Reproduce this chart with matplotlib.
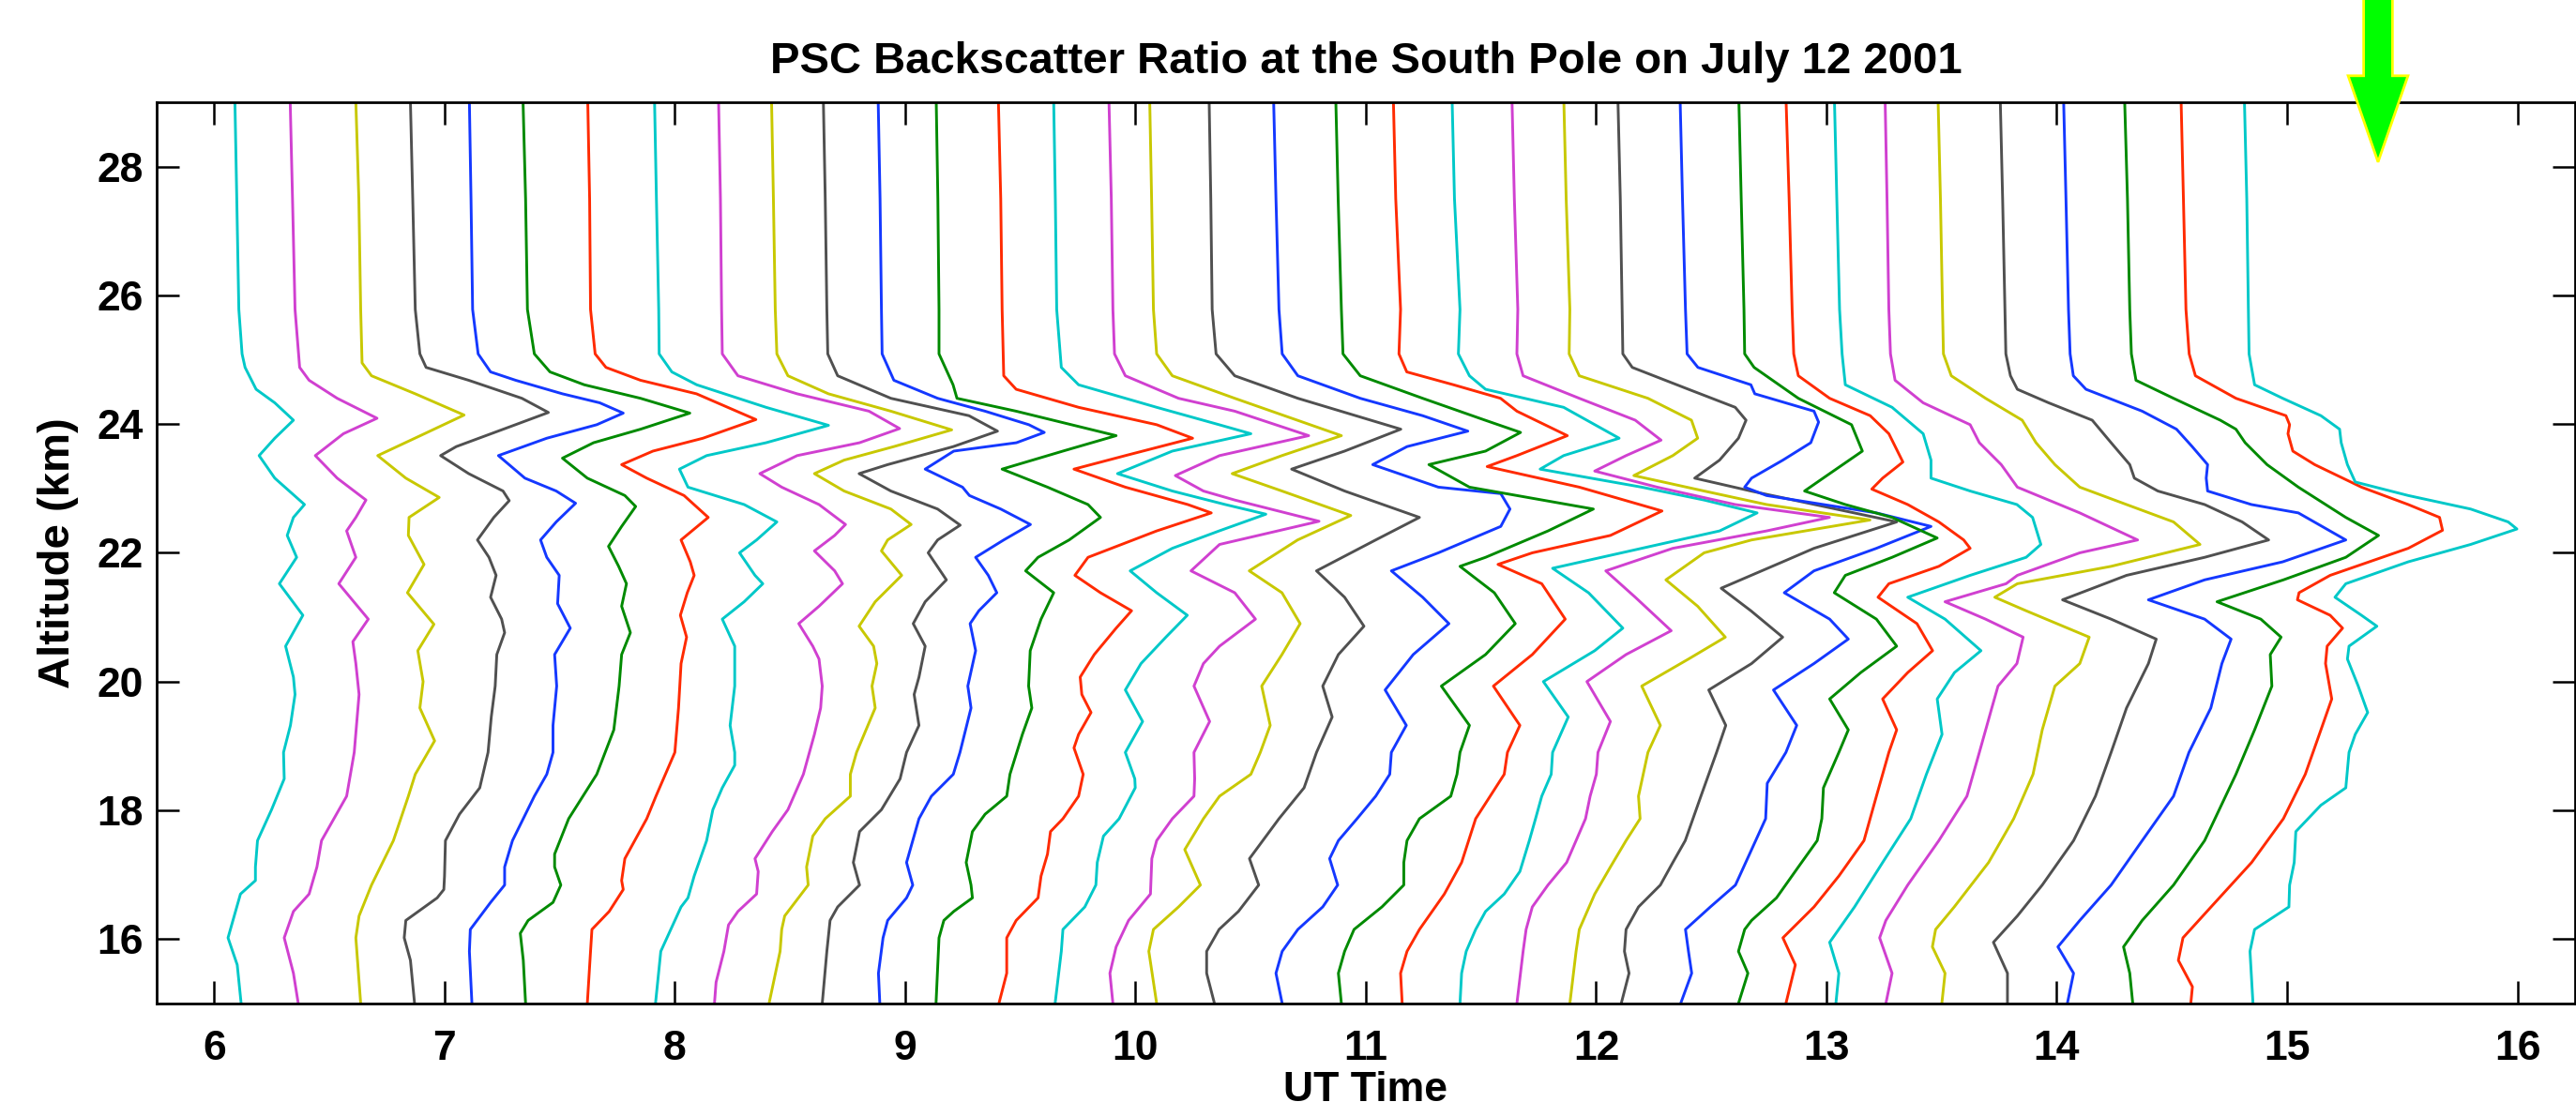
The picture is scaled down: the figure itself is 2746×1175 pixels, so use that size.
import matplotlib
matplotlib.use("Agg")
import matplotlib.pyplot as plt
from matplotlib.patches import FancyArrow

plt.rcParams['font.family'] = ['Liberation Sans', 'DejaVu Sans']
plt.rcParams['font.weight'] = 'bold'

# colour cycle of the profiles (cyan, magenta, yellow, black, blue, green, red)
trace_colors = ['#00c8c8', '#d040d0', '#c8c800', '#505050', '#1438ff', '#008a00', '#ff2a00']

# profiles: (altitude km, plotted UT position in hours)
p01 = [(29, 6.090), (27.5, 6.098), (25.78, 6.107), (25.09, 6.121), (24.88, 6.134), (24.54, 6.182), (24.33, 6.263),
       (24.06, 6.344), (23.78, 6.263), (23.51, 6.195), (23.16, 6.263), (22.75, 6.392), (22.55, 6.344), (22.27, 6.317),
       (21.93, 6.358), (21.52, 6.283), (21.03, 6.385), (20.55, 6.310), (20.07, 6.344), (19.80, 6.351), (19.32, 6.331),
       (18.90, 6.301), (18.49, 6.304), (18.01, 6.249), (17.53, 6.188), (17.12, 6.179), (16.91, 6.179), (16.70, 6.114),
       (16.02, 6.060), (15.60, 6.100), (15.00, 6.117)]
p02 = [(29, 6.330), (27.5, 6.340), (25.78, 6.351), (24.88, 6.371), (24.68, 6.412), (24.40, 6.534), (24.09, 6.707),
       (23.85, 6.561), (23.51, 6.439), (23.16, 6.534), (22.82, 6.659), (22.55, 6.615), (22.34, 6.575), (21.93, 6.615),
       (21.52, 6.541), (20.97, 6.669), (20.62, 6.602), (20.28, 6.615), (19.80, 6.629), (18.90, 6.608), (18.22, 6.575),
       (17.53, 6.466), (17.12, 6.446), (16.70, 6.412), (16.43, 6.344), (16.02, 6.304), (15.47, 6.344), (15.00, 6.365)]
p03 = [(29, 6.615), (27.5, 6.628), (25.78, 6.636), (24.95, 6.642), (24.75, 6.683), (24.47, 6.873), (24.14, 7.085),
       (23.85, 6.913), (23.51, 6.710), (23.16, 6.832), (22.86, 6.977), (22.55, 6.846), (22.27, 6.843), (21.82, 6.911),
       (21.38, 6.839), (20.89, 6.954), (20.48, 6.884), (20.00, 6.907), (19.59, 6.893), (19.08, 6.957), (18.56, 6.873),
       (18.22, 6.843), (17.53, 6.778), (16.84, 6.683), (16.36, 6.629), (16.02, 6.615), (15.00, 6.636)]
p04 = [(29, 6.852), (27.5, 6.862), (25.78, 6.873), (25.09, 6.893), (24.88, 6.920), (24.68, 7.105), (24.40, 7.336),
       (24.18, 7.451), (23.99, 7.308), (23.65, 7.051), (23.51, 6.983), (23.23, 7.105), (22.96, 7.254), (22.81, 7.281),
       (22.55, 7.214), (22.20, 7.143), (21.93, 7.193), (21.65, 7.224), (21.31, 7.200), (20.97, 7.248), (20.76, 7.261),
       (20.42, 7.227), (19.93, 7.220), (19.45, 7.203), (18.90, 7.189), (18.35, 7.153), (17.94, 7.065), (17.53, 7.004),
       (16.98, 7.000), (16.77, 6.997), (16.64, 6.968), (16.29, 6.832), (16.02, 6.825), (15.67, 6.852), (15.00, 6.870)]
p05 = [(29, 7.108), (27.5, 7.115), (25.78, 7.122), (25.09, 7.146), (24.81, 7.200), (24.68, 7.309), (24.47, 7.512),
       (24.33, 7.674), (24.17, 7.776), (23.99, 7.661), (23.78, 7.444), (23.51, 7.234), (23.16, 7.349), (22.96, 7.485),
       (22.77, 7.569), (22.48, 7.485), (22.20, 7.417), (21.93, 7.444), (21.65, 7.498), (21.21, 7.491), (20.83, 7.546),
       (20.42, 7.478), (19.93, 7.487), (19.32, 7.471), (18.90, 7.471), (18.56, 7.444), (18.22, 7.390), (17.53, 7.295),
       (17.12, 7.261), (16.84, 7.261), (16.57, 7.200), (16.15, 7.112), (15.81, 7.108), (15.00, 7.119)]
p06 = [(29, 7.341), (27.5, 7.352), (25.78, 7.360), (25.09, 7.390), (24.81, 7.458), (24.61, 7.607), (24.40, 7.851),
       (24.17, 8.065), (23.92, 7.851), (23.71, 7.647), (23.47, 7.512), (23.16, 7.620), (22.89, 7.783), (22.72, 7.830),
       (22.41, 7.769), (22.10, 7.712), (21.79, 7.756), (21.52, 7.790), (21.17, 7.769), (20.76, 7.807), (20.42, 7.769),
       (19.93, 7.758), (19.25, 7.735), (18.56, 7.661), (17.87, 7.539), (17.32, 7.478), (17.12, 7.478), (16.84, 7.505),
       (16.57, 7.471), (16.29, 7.363), (16.09, 7.329), (15.67, 7.342), (15.00, 7.352)]
p07 = [(29, 7.622), (27.5, 7.630), (25.78, 7.634), (25.09, 7.654), (24.88, 7.701), (24.68, 7.851), (24.47, 8.094),
       (24.07, 8.352), (23.78, 8.122), (23.58, 7.905), (23.37, 7.769), (23.16, 7.878), (22.89, 8.040), (22.55, 8.145),
       (22.20, 8.027), (21.86, 8.067), (21.65, 8.084), (21.38, 8.054), (21.03, 8.024), (20.69, 8.051), (20.28, 8.027),
       (19.59, 8.016), (18.90, 8.000), (18.22, 7.918), (17.87, 7.878), (17.25, 7.783), (16.91, 7.769), (16.77, 7.776),
       (16.43, 7.715), (16.15, 7.640), (15.81, 7.634), (15.00, 7.620)]
p08 = [(29, 7.912), (27.5, 7.920), (25.78, 7.930), (25.09, 7.932), (24.81, 7.987), (24.61, 8.095), (24.26, 8.396),
       (23.98, 8.667), (23.71, 8.396), (23.51, 8.138), (23.30, 8.020), (23.02, 8.057), (22.75, 8.301), (22.48, 8.443),
       (22.20, 8.355), (22.00, 8.281), (21.65, 8.348), (21.52, 8.382), (21.24, 8.301), (20.97, 8.206), (20.55, 8.260),
       (19.93, 8.260), (19.32, 8.240), (18.90, 8.260), (18.70, 8.260), (18.35, 8.206), (18.01, 8.165), (17.53, 8.138),
       (16.98, 8.084), (16.64, 8.057), (16.50, 8.027), (15.81, 7.939), (15.00, 7.916)]
p09 = [(29, 8.190), (27.5, 8.198), (25.78, 8.203), (25.09, 8.206), (24.75, 8.274), (24.47, 8.531), (24.20, 8.843),
       (23.93, 8.976), (23.71, 8.802), (23.51, 8.531), (23.23, 8.369), (23.02, 8.464), (22.75, 8.626), (22.44, 8.741),
       (22.27, 8.694), (22.03, 8.606), (21.72, 8.694), (21.52, 8.728), (21.17, 8.626), (20.90, 8.538), (20.55, 8.599),
       (20.35, 8.626), (19.93, 8.640), (19.59, 8.633), (19.18, 8.606), (18.56, 8.558), (18.01, 8.491), (17.67, 8.423),
       (17.25, 8.348), (17.05, 8.362), (16.70, 8.355), (16.43, 8.274), (16.22, 8.233), (15.81, 8.213), (15.33, 8.179),
       (15.00, 8.172)]
p10 = [(29, 8.420), (27.5, 8.428), (25.78, 8.436), (25.09, 8.443), (24.75, 8.491), (24.47, 8.667), (24.20, 8.938),
       (23.91, 9.202), (23.65, 8.951), (23.44, 8.735), (23.23, 8.606), (22.96, 8.735), (22.68, 8.938), (22.44, 9.026),
       (22.20, 8.924), (22.03, 8.897), (21.65, 8.985), (21.24, 8.870), (20.86, 8.800), (20.55, 8.863), (20.28, 8.877),
       (19.93, 8.856), (19.59, 8.870), (18.90, 8.789), (18.56, 8.762), (18.22, 8.762), (17.87, 8.653), (17.60, 8.599),
       (17.12, 8.572), (16.84, 8.579), (16.36, 8.477), (16.15, 8.464), (15.81, 8.457), (15.00, 8.409)]
p11 = [(29, 8.645), (27.5, 8.653), (25.78, 8.660), (25.09, 8.664), (24.75, 8.707), (24.40, 8.938), (24.13, 9.277),
       (23.89, 9.401), (23.65, 9.209), (23.37, 8.924), (23.23, 8.800), (22.96, 8.938), (22.68, 9.141), (22.43, 9.239),
       (22.20, 9.141), (22.00, 9.100), (21.58, 9.179), (21.24, 9.087), (20.90, 9.035), (20.55, 9.087), (20.07, 9.060),
       (19.80, 9.039), (19.32, 9.060), (18.90, 9.006), (18.49, 8.978), (18.01, 8.897), (17.67, 8.802), (17.19, 8.775),
       (16.84, 8.802), (16.50, 8.707), (16.29, 8.674), (15.81, 8.660), (15.00, 8.640)]
p12 = [(29, 8.883), (27.5, 8.891), (25.78, 8.897), (25.09, 8.900), (24.68, 8.951), (24.40, 9.141), (24.20, 9.347),
       (23.99, 9.537), (23.87, 9.604), (23.71, 9.483), (23.58, 9.211), (23.30, 9.087), (23.02, 9.249), (22.89, 9.279),
       (22.68, 9.415), (22.44, 9.544), (22.20, 9.428), (21.93, 9.306), (21.65, 9.361), (21.38, 9.398), (21.10, 9.320),
       (20.90, 9.282), (20.48, 9.306), (19.93, 9.272), (19.59, 9.286), (18.90, 9.238), (18.56, 9.209), (18.22, 9.114),
       (17.87, 9.060), (17.53, 9.033), (17.19, 9.006), (16.84, 9.033), (16.64, 9.006), (16.29, 8.924), (16.02, 8.904),
       (15.47, 8.884), (15.00, 8.890)]
p13 = [(29, 9.135), (27.5, 9.142), (25.78, 9.147), (25.09, 9.147), (24.61, 9.208), (24.40, 9.225), (24.20, 9.482),
       (23.82, 9.916), (23.58, 9.685), (23.30, 9.421), (23.02, 9.618), (22.75, 9.794), (22.55, 9.848), (22.20, 9.712),
       (21.93, 9.577), (21.72, 9.523), (21.38, 9.645), (20.97, 9.590), (20.48, 9.543), (19.93, 9.536), (19.59, 9.550),
       (19.18, 9.509), (18.56, 9.455), (18.22, 9.441), (17.94, 9.347), (17.67, 9.292), (17.19, 9.265), (16.84, 9.286),
       (16.64, 9.292), (16.43, 9.211), (16.29, 9.168), (16.02, 9.147), (15.47, 9.140), (15.00, 9.134)]
p14 = [(29, 9.405), (27.5, 9.415), (25.78, 9.421), (24.75, 9.428), (24.54, 9.482), (24.26, 9.753), (23.99, 10.092),
       (23.78, 10.248), (23.51, 9.956), (23.30, 9.733), (23.02, 9.956), (22.75, 10.227), (22.62, 10.329), (22.34, 10.092),
       (21.93, 9.794), (21.65, 9.737), (21.38, 9.848), (21.10, 9.983), (20.83, 9.916), (20.42, 9.821), (20.07, 9.760),
       (19.80, 9.767), (19.52, 9.807), (19.18, 9.753), (18.97, 9.733), (18.56, 9.773), (18.22, 9.753), (17.87, 9.685),
       (17.67, 9.631), (17.32, 9.618), (16.98, 9.590), (16.64, 9.577), (16.29, 9.482), (16.02, 9.441), (15.47, 9.441),
       (15.00, 9.407)]
p15 = [(29, 9.645), (27.5, 9.652), (25.78, 9.658), (24.88, 9.678), (24.61, 9.753), (24.26, 10.092), (23.99, 10.363),
       (23.85, 10.501), (23.58, 10.160), (23.23, 9.922), (22.96, 10.160), (22.75, 10.390), (22.60, 10.566),
       (22.34, 10.363), (22.07, 10.160), (21.72, 9.977), (21.38, 10.092), (21.03, 10.225), (20.69, 10.132),
       (20.28, 10.024), (19.87, 9.956), (19.38, 10.031), (18.90, 9.956), (18.49, 9.997), (18.35, 9.999), (17.87, 9.929),
       (17.60, 9.861), (17.19, 9.834), (16.84, 9.828), (16.50, 9.780), (16.15, 9.685), (15.81, 9.678), (15.00, 9.651)]
p16 = [(29, 9.885), (27.5, 9.895), (25.78, 9.902), (25.09, 9.909), (24.75, 9.956), (24.40, 10.187), (24.20, 10.431),
       (23.82, 10.752), (23.51, 10.365), (23.20, 10.173), (22.96, 10.295), (22.82, 10.431), (22.49, 10.797),
       (22.13, 10.365), (21.72, 10.241), (21.38, 10.431), (20.97, 10.521), (20.55, 10.365), (20.28, 10.295),
       (19.93, 10.254), (19.38, 10.322), (18.90, 10.254), (18.49, 10.257), (18.22, 10.254), (17.87, 10.160),
       (17.53, 10.092), (17.25, 10.071), (16.70, 10.065), (16.29, 9.970), (15.88, 9.916), (15.47, 9.889), (15.00, 9.902)]
p17 = [(29, 10.062), (27.5, 10.070), (25.78, 10.078), (25.09, 10.092), (24.75, 10.160), (24.40, 10.431),
       (23.82, 10.894), (23.51, 10.636), (23.23, 10.420), (22.96, 10.636), (22.58, 10.935), (22.20, 10.704),
       (21.72, 10.494), (21.38, 10.636), (20.90, 10.715), (20.42, 10.636), (19.93, 10.548), (19.32, 10.585),
       (18.90, 10.542), (18.56, 10.501), (18.22, 10.365), (17.87, 10.295), (17.39, 10.214), (16.84, 10.282),
       (16.50, 10.187), (16.15, 10.078), (15.81, 10.058), (15.00, 10.092)]
p18 = [(29, 10.320), (27.5, 10.327), (25.78, 10.333), (25.09, 10.350), (24.75, 10.431), (24.40, 10.705),
       (23.92, 11.152), (23.58, 10.908), (23.30, 10.678), (22.96, 10.908), (22.55, 11.233), (22.20, 11.043),
       (21.72, 10.786), (21.31, 10.908), (20.86, 10.992), (20.42, 10.881), (19.93, 10.813), (19.45, 10.854),
       (18.90, 10.786), (18.35, 10.732), (17.87, 10.623), (17.25, 10.495), (16.84, 10.535), (16.43, 10.447),
       (16.15, 10.363), (15.81, 10.309), (15.47, 10.309), (15.00, 10.343)]
p19 = [(29, 10.600), (27.5, 10.610), (25.78, 10.623), (25.09, 10.637), (24.75, 10.705), (24.40, 10.976),
       (24.13, 11.247), (23.89, 11.443), (23.65, 11.179), (23.37, 11.030), (23.02, 11.315), (22.92, 11.586),
       (22.68, 11.626), (22.41, 11.586), (22.00, 11.315), (21.72, 11.111), (21.31, 11.247), (20.90, 11.361),
       (20.42, 11.206), (19.87, 11.084), (19.32, 11.176), (18.90, 11.111), (18.56, 11.104), (18.22, 11.043),
       (17.87, 10.962), (17.53, 10.881), (17.25, 10.843), (16.84, 10.878), (16.50, 10.813), (16.15, 10.705),
       (15.81, 10.637), (15.47, 10.610), (15.00, 10.637)]
p20 = [(29, 10.870), (27.5, 10.880), (25.78, 10.894), (25.09, 10.901), (24.75, 10.976), (24.40, 11.247),
       (24.06, 11.518), (23.87, 11.672), (23.58, 11.520), (23.37, 11.274), (23.02, 11.450), (22.68, 11.988),
       (22.34, 11.791), (21.93, 11.520), (21.79, 11.409), (21.38, 11.558), (20.90, 11.649), (20.42, 11.520),
       (19.93, 11.328), (19.32, 11.450), (18.90, 11.409), (18.56, 11.396), (18.22, 11.369), (17.87, 11.233),
       (17.53, 11.179), (17.19, 11.165), (16.84, 11.165), (16.50, 11.070), (16.15, 10.949), (15.81, 10.908),
       (15.47, 10.881), (15.00, 10.894)]
p21 = [(29, 11.120), (27.5, 11.130), (25.78, 11.151), (25.09, 11.144), (24.81, 11.178), (24.61, 11.381),
       (24.40, 11.585), (24.20, 11.656), (23.82, 11.875), (23.51, 11.656), (23.34, 11.527), (23.02, 11.927),
       (22.65, 12.286), (22.27, 12.062), (22.00, 11.723), (21.82, 11.574), (21.52, 11.764), (20.97, 11.866),
       (20.42, 11.723), (19.93, 11.554), (19.32, 11.669), (18.90, 11.615), (18.56, 11.601), (18.22, 11.540),
       (17.87, 11.477), (17.19, 11.416), (16.70, 11.341), (16.15, 11.233), (15.81, 11.179), (15.47, 11.151),
       (15.00, 11.158)]
p22 = [(29, 11.375), (27.5, 11.385), (25.78, 11.409), (25.09, 11.402), (24.75, 11.450), (24.54, 11.520),
       (24.26, 11.859), (23.78, 12.100), (23.51, 11.859), (23.30, 11.757), (23.02, 12.198), (22.82, 12.469),
       (22.62, 12.699), (22.34, 12.536), (22.07, 12.198), (21.76, 11.811), (21.38, 11.967), (20.83, 12.116),
       (20.48, 11.994), (20.00, 11.771), (19.45, 11.879), (18.90, 11.811), (18.56, 11.805), (18.22, 11.764),
       (17.87, 11.737), (17.53, 11.710), (17.05, 11.669), (16.70, 11.601), (16.43, 11.520), (16.15, 11.477),
       (15.81, 11.436), (15.47, 11.416), (15.00, 11.409)]
p23 = [(29, 11.635), (27.5, 11.645), (25.78, 11.660), (25.09, 11.656), (24.75, 11.683), (24.40, 11.927),
       (24.06, 12.170), (23.75, 12.282), (23.51, 12.130), (23.27, 11.994), (23.02, 12.265), (22.75, 12.604),
       (22.55, 13.013), (22.34, 12.740), (22.07, 12.333), (21.72, 12.042), (21.31, 12.170), (20.79, 12.326),
       (20.42, 12.130), (20.00, 11.960), (19.38, 12.062), (18.90, 12.008), (18.56, 12.001), (18.22, 11.974),
       (17.87, 11.954), (17.53, 11.913), (17.19, 11.872), (16.84, 11.791), (16.50, 11.723), (16.15, 11.696),
       (15.81, 11.683), (15.00, 11.656)]
p24 = [(29, 11.860), (27.5, 11.870), (25.78, 11.886), (25.09, 11.883), (24.75, 11.927), (24.40, 12.225),
       (24.06, 12.414), (23.78, 12.441), (23.51, 12.333), (23.20, 12.164), (22.96, 12.469), (22.75, 12.740),
       (22.51, 13.189), (22.20, 12.675), (22.00, 12.469), (21.58, 12.303), (21.17, 12.441), (20.69, 12.561),
       (20.35, 12.401), (19.93, 12.198), (19.32, 12.279), (18.90, 12.225), (18.22, 12.184), (17.87, 12.191),
       (17.53, 12.130), (17.12, 12.062), (16.70, 11.994), (16.15, 11.927), (15.81, 11.913), (15.00, 11.886)]
p25 = [(29, 12.095), (27.5, 12.105), (25.78, 12.113), (25.09, 12.116), (24.88, 12.157), (24.54, 12.401),
       (24.26, 12.604), (24.06, 12.651), (23.78, 12.618), (23.44, 12.536), (23.16, 12.428), (22.96, 12.672),
       (22.48, 13.305), (22.07, 12.946), (21.86, 12.810), (21.45, 12.543), (21.10, 12.672), (20.69, 12.810),
       (20.28, 12.675), (19.87, 12.489), (19.32, 12.563), (18.90, 12.523), (18.22, 12.455), (17.53, 12.387),
       (17.19, 12.333), (16.84, 12.279), (16.50, 12.184), (16.15, 12.130), (15.81, 12.123), (15.47, 12.143),
       (15.00, 12.109)]
p26 = [(29, 12.365), (27.5, 12.375), (25.78, 12.388), (25.09, 12.395), (24.88, 12.442), (24.61, 12.672),
       (24.47, 12.689), (24.20, 12.946), (24.03, 12.966), (23.71, 12.932), (23.44, 12.811), (23.16, 12.675),
       (23.02, 12.645), (22.89, 12.740), (22.62, 13.217), (22.41, 13.454), (22.07, 13.217), (21.72, 12.946),
       (21.38, 12.817), (20.97, 13.014), (20.66, 13.095), (20.28, 12.946), (19.87, 12.770), (19.32, 12.871),
       (18.90, 12.824), (18.42, 12.743), (17.87, 12.736), (17.39, 12.675), (16.84, 12.605), (16.50, 12.496),
       (16.15, 12.388), (15.81, 12.401), (15.47, 12.415), (15.00, 12.367)]
p27 = [(29, 12.620), (27.5, 12.630), (25.78, 12.642), (25.09, 12.645), (24.88, 12.686), (24.40, 12.878),
       (23.99, 13.109), (23.58, 13.156), (23.23, 13.014), (22.96, 12.905), (22.75, 13.082), (22.55, 13.285),
       (22.23, 13.481), (21.93, 13.285), (21.65, 13.082), (21.38, 13.034), (20.97, 13.217), (20.55, 13.305),
       (20.14, 13.149), (19.73, 13.014), (19.25, 13.095), (18.90, 13.054), (18.35, 12.987), (17.87, 12.980),
       (17.53, 12.960), (17.12, 12.878), (16.64, 12.783), (16.29, 12.675), (16.15, 12.645), (15.81, 12.618),
       (15.47, 12.659), (15.00, 12.618)]
p28 = [(29, 12.825), (27.5, 12.838), (25.78, 12.851), (25.09, 12.858), (24.75, 12.878), (24.40, 13.014),
       (24.13, 13.190), (23.85, 13.271), (23.41, 13.332), (23.16, 13.244), (22.99, 13.197), (22.75, 13.353),
       (22.48, 13.488), (22.20, 13.596), (22.07, 13.624), (21.79, 13.488), (21.52, 13.271), (21.31, 13.224),
       (20.90, 13.393), (20.48, 13.461), (20.14, 13.353), (19.73, 13.244), (19.25, 13.305), (18.90, 13.271),
       (18.22, 13.217), (17.53, 13.163), (16.98, 13.054), (16.50, 12.946), (16.02, 12.811), (15.60, 12.865),
       (15.00, 12.824)]
p29 = [(29, 13.035), (27.5, 13.045), (25.78, 13.057), (25.09, 13.068), (24.61, 13.082), (24.26, 13.285),
       (23.85, 13.420), (23.44, 13.454), (23.16, 13.454), (22.96, 13.624), (22.75, 13.827), (22.55, 13.895),
       (22.13, 13.931), (21.93, 13.867), (21.65, 13.624), (21.31, 13.353), (20.97, 13.515), (20.48, 13.671),
       (20.14, 13.556), (19.73, 13.481), (19.18, 13.502), (18.56, 13.434), (17.87, 13.366), (17.19, 13.244),
       (16.50, 13.122), (15.95, 13.014), (15.47, 13.054), (15.00, 13.041)]
p30 = [(29, 13.255), (27.5, 13.263), (25.78, 13.271), (25.09, 13.278), (24.68, 13.298), (24.33, 13.420),
       (23.99, 13.624), (23.71, 13.664), (23.37, 13.759), (23.02, 13.829), (22.62, 14.100), (22.20, 14.351),
       (22.00, 14.100), (21.65, 13.829), (21.52, 13.780), (21.24, 13.515), (20.97, 13.691), (20.69, 13.854),
       (20.28, 13.827), (19.93, 13.745), (19.59, 13.718), (18.90, 13.664), (18.22, 13.610), (17.53, 13.488),
       (16.84, 13.353), (16.29, 13.258), (16.02, 13.231), (15.47, 13.285), (15.00, 13.258)]
p31 = [(29, 13.485), (27.5, 13.495), (25.78, 13.504), (25.09, 13.508), (24.75, 13.542), (24.40, 13.691),
       (24.06, 13.850), (23.71, 13.910), (23.37, 13.992), (23.02, 14.100), (22.75, 14.303), (22.48, 14.507),
       (22.13, 14.622), (21.79, 14.236), (21.52, 13.829), (21.31, 13.731), (21.10, 13.867), (20.69, 14.141),
       (20.28, 14.100), (19.93, 13.992), (19.25, 13.937), (18.56, 13.897), (17.87, 13.813), (17.19, 13.704),
       (16.50, 13.555), (16.15, 13.474), (15.88, 13.460), (15.47, 13.515), (15.00, 13.501)]
p32 = [(29, 13.755), (27.5, 13.765), (25.78, 13.775), (25.09, 13.779), (24.75, 13.799), (24.54, 13.829),
       (24.33, 13.965), (24.06, 14.154), (23.71, 14.236), (23.37, 14.317), (23.16, 14.337), (22.96, 14.439),
       (22.75, 14.642), (22.48, 14.805), (22.20, 14.920), (21.93, 14.642), (21.65, 14.303), (21.27, 14.025),
       (20.97, 14.236), (20.66, 14.432), (20.28, 14.398), (19.59, 14.303), (18.90, 14.236), (18.22, 14.168),
       (17.53, 14.073), (16.84, 13.937), (16.36, 13.829), (15.95, 13.725), (15.47, 13.786), (15.00, 13.786)]
p33 = [(29, 14.030), (27.5, 14.040), (25.78, 14.051), (25.09, 14.058), (24.75, 14.072), (24.54, 14.127),
       (24.20, 14.371), (23.92, 14.520), (23.65, 14.588), (23.37, 14.655), (23.16, 14.649), (22.96, 14.655),
       (22.75, 14.845), (22.62, 15.049), (22.20, 15.255), (21.86, 14.981), (21.58, 14.642), (21.27, 14.398),
       (20.97, 14.642), (20.66, 14.757), (20.28, 14.717), (19.59, 14.669), (18.90, 14.574), (18.22, 14.507),
       (17.53, 14.371), (16.84, 14.236), (16.29, 14.100), (15.88, 14.005), (15.47, 14.073), (15.00, 14.046)]
p34 = [(29, 14.295), (27.5, 14.307), (25.78, 14.317), (25.09, 14.324), (24.68, 14.344), (24.40, 14.507),
       (24.06, 14.710), (23.92, 14.778), (23.71, 14.818), (23.37, 14.913), (23.02, 15.049), (22.55, 15.255),
       (22.27, 15.397), (21.93, 15.255), (21.58, 14.984), (21.24, 14.696), (20.97, 14.886), (20.69, 14.974),
       (20.42, 14.927), (19.93, 14.934), (19.25, 14.859), (18.56, 14.778), (17.53, 14.642), (16.84, 14.507),
       (16.29, 14.371), (15.88, 14.290), (15.47, 14.317), (15.00, 14.330)]
p35 = [(29, 14.540), (27.5, 14.550), (25.78, 14.561), (25.09, 14.575), (24.75, 14.602), (24.40, 14.778),
       (24.13, 14.995), (23.99, 15.011), (23.85, 15.004), (23.58, 15.025), (23.37, 15.120), (23.02, 15.323),
       (22.75, 15.526), (22.55, 15.662), (22.35, 15.675), (22.07, 15.526), (21.65, 15.187), (21.38, 15.052),
       (21.27, 15.045), (21.03, 15.187), (20.83, 15.241), (20.55, 15.174), (20.28, 15.167), (19.73, 15.194),
       (19.25, 15.147), (18.56, 15.079), (17.87, 14.984), (17.19, 14.846), (16.50, 14.670), (16.02, 14.548),
       (15.67, 14.528), (15.26, 14.589), (15.00, 14.582)]
p36 = [(29, 14.815), (27.5, 14.825), (25.78, 14.832), (25.09, 14.835), (24.61, 14.859), (24.40, 14.981),
       (24.13, 15.147), (23.92, 15.228), (23.71, 15.235), (23.37, 15.262), (23.10, 15.296), (22.89, 15.526),
       (22.68, 15.797), (22.48, 15.960), (22.37, 15.998), (22.13, 15.797), (21.86, 15.526), (21.52, 15.255),
       (21.31, 15.208), (21.03, 15.323), (20.86, 15.390), (20.55, 15.269), (20.35, 15.262), (19.93, 15.309),
       (19.52, 15.350), (19.18, 15.296), (18.90, 15.269), (18.35, 15.255), (18.08, 15.147), (17.67, 15.038),
       (17.19, 15.031), (16.84, 15.011), (16.50, 15.008), (16.15, 14.859), (15.81, 14.839), (15.00, 14.852)]

profiles = [p01, p02, p03, p04, p05, p06, p07, p08, p09, p10, p11, p12, p13, p14, p15, p16, p17, p18,
            p19, p20, p21, p22, p23, p24, p25, p26, p27, p28, p29, p30, p31, p32, p33, p34, p35, p36]

# green arrow marking the time of interest
arrow_ut = 15.395
arrow_tip_alt = 28.07

fig = plt.figure(figsize=(13.73, 5.875), dpi=200)
ax = fig.add_axes([0.0608, 0.0894, 0.9388, 0.8179])

for i, prof in enumerate(profiles):
    alt = [q[0] for q in prof]
    ut = [q[1] for q in prof]
    ax.plot(ut, alt, color=trace_colors[i % len(trace_colors)], lw=1.05,
            solid_joinstyle='round', solid_capstyle='round')

ax.set_xlim(5.75, 16.25)
ax.set_ylim(15, 29)
ax.set_xticks(range(6, 17))
ax.set_yticks(range(16, 29, 2))
ax.tick_params(direction='in', length=8.5, width=0.9, top=True, right=True, labelsize=16)
ax.tick_params(axis='x', pad=10)
ax.tick_params(axis='y', pad=5)
for s in ax.spines.values():
    s.set_linewidth(1.0)

ax.set_title('PSC Backscatter Ratio at the South Pole on July 12 2001', fontsize=17,
             fontweight='bold', pad=11)
ax.set_xlabel('UT Time', fontsize=16, fontweight='bold', labelpad=1)
ax.set_ylabel('Altitude (km)', fontsize=17, fontweight='bold', labelpad=7)

arrow_top = 30.7
ax.add_patch(FancyArrow(arrow_ut, arrow_top, 0, arrow_tip_alt - arrow_top, width=0.125,
                        head_width=0.26, head_length=1.34, length_includes_head=True,
                        fc='#00ff00', ec='#ffff00', lw=1.0, clip_on=False, zorder=5))

fig.savefig('out.png', dpi=200)
